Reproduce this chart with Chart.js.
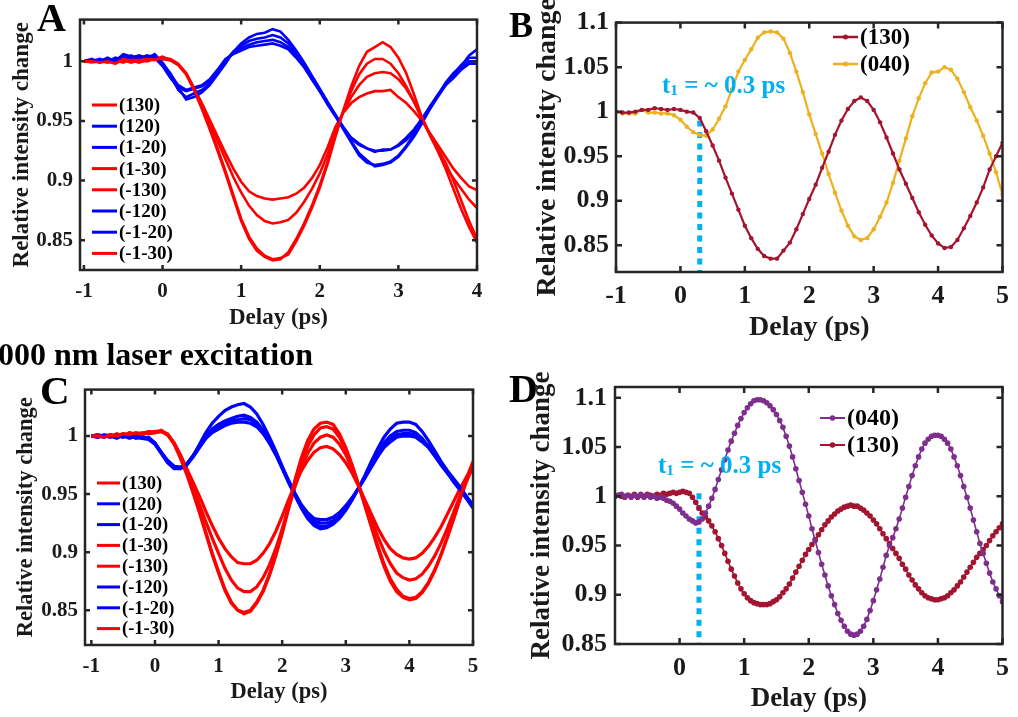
<!DOCTYPE html>
<html>
<head>
<meta charset="utf-8">
<script src="https://cdn.jsdelivr.net/npm/chart.js@4.4.0/dist/chart.umd.min.js"></script>
<style>
  body { margin: 0; background: #fff; width: 1018px; height: 717px; position: relative; overflow: hidden; }
  canvas { position: absolute; }
  .txt { position: absolute; font-family: "Liberation Serif", "Times New Roman", serif; font-weight: bold; line-height: 1; white-space: nowrap; color: #000; }
  .t1 { color: #00B0F0; font-size: 25px; }
  .t1 sub { font-size: 0.62em; vertical-align: -0.12em; }
</style>
</head>
<body>
<canvas id="chartA" width="500" height="340" style="left:0;top:0"></canvas>
<canvas id="chartB" width="508" height="350" style="left:510px;top:0"></canvas>
<canvas id="chartC" width="500" height="347" style="left:0;top:370px"></canvas>
<canvas id="chartD" width="508" height="367" style="left:510px;top:350px"></canvas>

<div class="txt" style="left:37px;top:-2px;font-size:40px">A</div>
<div class="txt" style="left:509px;top:7px;font-size:36px">B</div>
<div class="txt" style="left:-2px;top:338px;font-size:32px">000 nm laser excitation</div>
<div class="txt" style="left:40px;top:370px;font-size:41px">C</div>
<div class="txt" style="left:509px;top:369px;font-size:40px">D</div>
<div class="txt t1" style="left:662px;top:72px">t<sub>1</sub> = ~ 0.3 ps</div>
<div class="txt t1" style="left:658px;top:452px">t<sub>1</sub> = ~ 0.3 ps</div>

<script>
// delay axis, ps
const delay = [-1,-0.9,-0.8,-0.7,-0.6,-0.5,-0.4,-0.3,-0.2,-0.1,
  0,0.1,0.2,0.3,0.4,0.5,0.6,0.7,0.8,0.9,
  1,1.1,1.2,1.3,1.4,1.5,1.6,1.7,1.8,1.9,
  2,2.1,2.2,2.3,2.4,2.5,2.6,2.7,2.8,2.9,
  3,3.1,3.2,3.3,3.4,3.5,3.6,3.7,3.8,3.9,
  4,4.1,4.2,4.3,4.4,4.5,4.6,4.7,4.8,4.9,5];
const delayA = delay.slice(0, 51);
const delayD = [-1,-0.95,-0.9,-0.85,-0.8,-0.75,-0.7,-0.65,-0.6,-0.55,-0.5,-0.45,-0.4,-0.35,-0.3,-0.25,-0.2,-0.15,-0.1,-0.05,
  0,0.05,0.1,0.15,0.2,0.25,0.3,0.35,0.4,0.45,0.5,0.55,0.6,0.65,0.7,0.75,0.8,0.85,0.9,0.95,
  1,1.05,1.1,1.15,1.2,1.25,1.3,1.35,1.4,1.45,1.5,1.55,1.6,1.65,1.7,1.75,1.8,1.85,1.9,1.95,
  2,2.05,2.1,2.15,2.2,2.25,2.3,2.35,2.4,2.45,2.5,2.55,2.6,2.65,2.7,2.75,2.8,2.85,2.9,2.95,
  3,3.05,3.1,3.15,3.2,3.25,3.3,3.35,3.4,3.45,3.5,3.55,3.6,3.65,3.7,3.75,3.8,3.85,3.9,3.95,
  4,4.05,4.1,4.15,4.2,4.25,4.3,4.35,4.4,4.45,4.5,4.55,4.6,4.65,4.7,4.75,4.8,4.85,4.9,4.95,5];

// panel A
const aLabels = ['(130)','(120)','(1-20)','(1-30)','(-130)','(-120)','(-1-20)','(-1-30)'];
const aR130 = [1.000,1.000,0.999,1.000,0.998,1.002,1.000,1.001,1.002,1.001,
  1.003,1.002,0.998,0.990,0.977,0.962,0.945,0.927,0.908,0.888,
  0.868,0.853,0.843,0.837,0.834,0.835,0.838,0.849,0.862,0.877,
  0.894,0.914,0.937,0.959,0.979,0.996,1.008,1.012,1.016,1.012,
  1.003,0.990,0.972,0.953,0.939,0.925,0.910,0.893,0.876,0.861,0.848];
const aR1m30 = [1.000,1.001,1.000,0.999,1.001,0.999,1.002,1.000,1.003,1.002,
  1.004,1.001,0.997,0.989,0.976,0.960,0.943,0.925,0.906,0.886,
  0.866,0.851,0.841,0.836,0.833,0.834,0.840,0.851,0.864,0.879,
  0.896,0.916,0.938,0.958,0.975,0.989,0.998,1.002,1.002,0.998,
  0.990,0.979,0.966,0.952,0.939,0.927,0.915,0.900,0.883,0.866,0.851];
const aRm130 = [1.000,0.999,1.000,1.001,0.999,1.000,1.001,0.999,1.001,1.002,
  1.002,1.001,0.997,0.990,0.977,0.963,0.948,0.933,0.918,0.903,
  0.890,0.879,0.871,0.866,0.864,0.865,0.867,0.873,0.882,0.893,
  0.906,0.922,0.942,0.958,0.970,0.980,0.987,0.990,0.991,0.990,
  0.985,0.977,0.966,0.952,0.938,0.925,0.912,0.902,0.893,0.884,0.877];
const aRm1m30 = [1.000,1.000,1.001,0.999,1.000,1.001,0.999,1.001,1.000,1.002,
  1.002,1.001,0.997,0.990,0.978,0.965,0.951,0.937,0.923,0.910,
  0.899,0.891,0.887,0.885,0.884,0.885,0.886,0.889,0.894,0.902,
  0.913,0.928,0.945,0.957,0.965,0.970,0.973,0.975,0.975,0.976,
  0.970,0.965,0.958,0.950,0.940,0.930,0.920,0.910,0.902,0.895,0.892];
const aB120 = [1.000,1.001,1.000,1.003,1.000,1.006,1.004,1.003,1.004,1.005,
  0.998,0.990,0.978,0.968,0.970,0.974,0.980,0.989,0.998,1.008,
  1.015,1.020,1.023,1.024,1.027,1.025,1.018,1.009,0.999,0.988,
  0.977,0.966,0.955,0.944,0.933,0.923,0.917,0.912,0.913,0.915,
  0.920,0.928,0.937,0.948,0.960,0.971,0.982,0.990,0.996,1.005,1.010];
const aB1m20 = [1.000,1.002,0.999,1.001,1.002,1.004,1.003,1.005,1.003,1.004,
  0.997,0.988,0.976,0.970,0.973,0.976,0.981,0.990,1.000,1.008,
  1.013,1.017,1.019,1.020,1.022,1.020,1.015,1.007,0.997,0.986,
  0.975,0.964,0.954,0.943,0.932,0.921,0.915,0.913,0.914,0.916,
  0.921,0.929,0.939,0.950,0.962,0.972,0.981,0.989,0.997,1.003,1.003];
const aBm120 = [1.000,1.000,1.002,1.000,1.003,1.001,1.005,1.002,1.005,1.003,
  0.996,0.986,0.978,0.975,0.977,0.979,0.983,0.992,1.001,1.007,
  1.011,1.014,1.016,1.017,1.018,1.016,1.012,1.005,0.996,0.985,
  0.975,0.964,0.954,0.944,0.935,0.930,0.927,0.925,0.925,0.926,
  0.929,0.934,0.941,0.950,0.960,0.970,0.980,0.988,0.994,1.000,1.000];
const aBm1m20 = [1.000,1.001,1.000,1.002,1.001,1.003,1.002,1.004,1.002,1.006,
  0.999,0.989,0.980,0.976,0.978,0.980,0.985,0.993,1.002,1.006,
  1.009,1.012,1.013,1.014,1.015,1.013,1.010,1.003,0.995,0.985,
  0.975,0.965,0.955,0.945,0.936,0.931,0.927,0.924,0.926,0.926,
  0.930,0.936,0.943,0.952,0.962,0.971,0.980,0.986,0.993,0.998,0.998];
const aXTicks = [-1, 0, 1, 2, 3, 4];
const aYTicks = [0.85, 0.9, 0.95, 1];

// panel B
const bLabels = ['(130)', '(040)'];
const b130 = [1.000,0.999,0.999,1.000,1.002,1.002,1.004,1.003,1.002,1.003,
  1.002,1.000,0.999,0.993,0.978,0.962,0.945,0.926,0.908,0.890,
  0.872,0.858,0.846,0.838,0.835,0.835,0.844,0.853,0.868,0.885,
  0.902,0.918,0.937,0.955,0.974,0.990,1.003,1.012,1.016,1.012,
  1.002,0.988,0.971,0.953,0.935,0.919,0.903,0.887,0.873,0.861,
  0.852,0.847,0.848,0.856,0.869,0.883,0.898,0.915,0.935,0.950,0.965];
const b040 = [1.000,0.998,0.998,0.998,1.002,0.999,0.999,0.998,0.998,0.996,
  0.991,0.983,0.977,0.974,0.973,0.980,0.992,1.006,1.025,1.045,
  1.058,1.070,1.083,1.089,1.090,1.089,1.082,1.066,1.045,1.022,
  0.997,0.975,0.953,0.930,0.909,0.889,0.872,0.860,0.856,0.858,
  0.868,0.882,0.898,0.920,0.945,0.970,0.995,1.015,1.032,1.044,
  1.045,1.050,1.047,1.037,1.022,1.005,0.990,0.973,0.953,0.932,0.907];
const bT1 = [0.3, 0.3];
const bT1Y = [0.99, 0.82];
const bXTicks = [-1, 0, 1, 2, 3, 4, 5];
const bYTicks = [0.85, 0.9, 0.95, 1, 1.05, 1.1];

// panel C
const cLabels = aLabels;
const cR130 = [1.000,1.000,0.999,1.001,1.000,1.002,1.001,1.003,1.002,1.003,
  1.004,1.004,1.002,0.994,0.982,0.968,0.952,0.935,0.917,0.899,
  0.883,0.868,0.857,0.850,0.848,0.850,0.857,0.867,0.881,0.898,
  0.918,0.940,0.962,0.981,0.996,1.006,1.011,1.012,1.010,1.002,
  0.990,0.975,0.958,0.940,0.922,0.904,0.888,0.875,0.866,0.861,
  0.859,0.860,0.865,0.873,0.884,0.898,0.914,0.931,0.948,0.964,0.978];
const cRm1m30 = [1.000,1.001,1.000,0.999,1.002,1.000,1.003,1.001,1.002,1.004,
  1.003,1.005,1.001,0.993,0.981,0.967,0.951,0.934,0.916,0.898,
  0.882,0.867,0.856,0.850,0.847,0.849,0.856,0.866,0.880,0.897,
  0.916,0.937,0.958,0.976,0.991,1.001,1.007,1.008,1.006,0.999,
  0.988,0.974,0.958,0.941,0.923,0.906,0.890,0.877,0.868,0.862,
  0.860,0.861,0.866,0.874,0.885,0.898,0.913,0.929,0.946,0.961,0.975];
const cR1m30 = [1.000,0.999,1.001,1.000,1.001,0.999,1.002,1.001,1.003,1.002,
  1.003,1.004,1.001,0.994,0.983,0.970,0.956,0.941,0.926,0.912,
  0.899,0.886,0.876,0.869,0.866,0.866,0.870,0.878,0.889,0.903,
  0.920,0.938,0.956,0.972,0.985,0.994,0.999,1.001,0.999,0.993,
  0.984,0.972,0.958,0.943,0.928,0.914,0.901,0.890,0.882,0.878,
  0.876,0.877,0.881,0.888,0.897,0.908,0.921,0.935,0.949,0.962,0.973];
const cRm130 = [1.000,1.001,0.999,1.001,1.000,1.002,1.000,1.002,1.001,1.003,
  1.003,1.004,1.001,0.994,0.984,0.972,0.960,0.948,0.935,0.923,
  0.912,0.903,0.896,0.891,0.890,0.890,0.893,0.899,0.907,0.918,
  0.931,0.945,0.958,0.970,0.979,0.986,0.990,0.991,0.989,0.984,
  0.977,0.968,0.957,0.945,0.933,0.921,0.911,0.903,0.898,0.895,
  0.894,0.895,0.899,0.905,0.913,0.922,0.933,0.944,0.955,0.965,0.972];
const cB120 = [1.000,0.999,1.001,1.000,0.998,1.001,0.999,1.000,0.998,0.997,
  0.993,0.985,0.977,0.973,0.972,0.975,0.983,0.993,1.003,1.011,
  1.017,1.022,1.025,1.027,1.028,1.025,1.019,1.010,0.999,0.987,
  0.974,0.961,0.949,0.938,0.929,0.923,0.920,0.921,0.924,0.929,
  0.936,0.945,0.955,0.966,0.978,0.989,0.999,1.006,1.011,1.012,
  1.012,1.010,1.004,0.996,0.987,0.978,0.970,0.963,0.956,0.948,0.940];
const cB1m20 = [1.000,1.000,0.999,1.001,1.000,0.999,1.001,0.998,0.999,0.998,
  0.994,0.986,0.978,0.974,0.973,0.976,0.983,0.992,1.000,1.006,
  1.010,1.013,1.015,1.017,1.018,1.016,1.012,1.005,0.996,0.985,
  0.973,0.961,0.950,0.940,0.932,0.927,0.925,0.925,0.927,0.931,
  0.938,0.946,0.955,0.965,0.975,0.985,0.994,1.000,1.004,1.005,
  1.005,1.003,0.998,0.991,0.983,0.975,0.968,0.961,0.954,0.946,0.939];
const cBm120 = [1.000,1.001,1.000,0.999,1.001,1.000,0.998,1.000,0.999,0.998,
  0.993,0.985,0.977,0.972,0.972,0.975,0.982,0.990,0.998,1.004,
  1.008,1.011,1.013,1.014,1.015,1.014,1.010,1.003,0.994,0.984,
  0.972,0.960,0.949,0.939,0.930,0.925,0.922,0.922,0.925,0.930,
  0.937,0.946,0.955,0.964,0.974,0.983,0.991,0.997,1.001,1.002,
  1.002,1.001,0.997,0.991,0.983,0.975,0.968,0.960,0.953,0.946,0.938];
const cBm1m20 = [1.000,0.999,1.000,1.001,0.999,1.000,1.000,0.999,0.998,0.999,
  0.994,0.986,0.979,0.974,0.973,0.976,0.983,0.991,0.998,1.003,
  1.006,1.009,1.011,1.012,1.012,1.011,1.008,1.002,0.994,0.984,
  0.973,0.962,0.951,0.941,0.934,0.929,0.928,0.928,0.930,0.934,
  0.940,0.947,0.955,0.964,0.973,0.982,0.990,0.995,0.999,1.000,
  1.000,0.999,0.995,0.990,0.983,0.976,0.969,0.961,0.954,0.947,0.941];
const cXTicks = [-1, 0, 1, 2, 3, 4, 5];
const cYTicks = [0.85, 0.9, 0.95, 1];

// panel D
const dLabels = ['(040)', '(130)'];
const d040 = [1.000,1.001,1.002,1.000,1.001,0.999,1.001,1.000,1.002,0.999,
  1.001,0.999,1.000,0.998,0.999,0.998,0.996,0.995,0.993,0.990,
  0.987,0.983,0.980,0.977,0.975,0.973,0.974,0.977,0.983,0.990,
  0.998,1.007,1.017,1.027,1.037,1.047,1.056,1.064,1.072,1.079,
  1.085,1.090,1.094,1.097,1.098,1.098,1.097,1.095,1.092,1.088,
  1.083,1.077,1.070,1.061,1.051,1.040,1.028,1.016,1.004,0.992,
  0.980,0.967,0.955,0.943,0.931,0.920,0.909,0.899,0.890,0.881,
  0.874,0.868,0.863,0.860,0.859,0.860,0.863,0.868,0.875,0.884,
  0.894,0.905,0.916,0.928,0.940,0.950,0.958,0.967,0.977,0.988,
  0.999,1.010,1.021,1.031,1.040,1.048,1.054,1.058,1.061,1.062,
  1.062,1.061,1.058,1.054,1.048,1.040,1.031,1.021,1.010,0.999,
  0.988,0.976,0.964,0.952,0.942,0.932,0.922,0.913,0.906,0.899,0.893];
const d130 = [1.000,1.001,1.000,0.999,1.001,1.000,1.002,0.999,1.001,1.000,
  1.002,1.001,1.000,1.002,1.001,1.003,1.002,1.003,1.004,1.003,
  1.004,1.005,1.004,1.003,0.999,0.994,0.988,0.983,0.979,0.975,
  0.970,0.964,0.957,0.950,0.942,0.934,0.926,0.919,0.912,0.906,
  0.901,0.897,0.894,0.892,0.891,0.890,0.890,0.890,0.891,0.893,
  0.895,0.898,0.902,0.906,0.911,0.917,0.923,0.929,0.935,0.941,
  0.946,0.951,0.956,0.961,0.966,0.971,0.975,0.979,0.982,0.985,
  0.987,0.989,0.990,0.991,0.990,0.990,0.988,0.986,0.983,0.980,
  0.976,0.972,0.967,0.962,0.957,0.952,0.947,0.942,0.937,0.931,
  0.926,0.920,0.915,0.910,0.906,0.902,0.899,0.897,0.896,0.895,
  0.895,0.896,0.897,0.899,0.902,0.905,0.909,0.913,0.918,0.923,
  0.928,0.933,0.938,0.942,0.946,0.950,0.955,0.960,0.964,0.968,0.972];
const dT1 = [0.3, 0.3];
const dT1Y = [1.003, 0.85];
const dXTicks = [0, 1, 2, 3, 4, 5];
const dYTicks = [0.85, 0.9, 0.95, 1, 1.05, 1.1];

const RED = '#FF0000', BLUE = '#0000FF';
const WINE = '#A2142F', GOLD = '#EDB120', PURPLE = '#7E2F8E', CYAN = '#00B0F0';
const FAMILY = "'Liberation Serif', 'Times New Roman', serif";
const INK = '#1a1a1a';

const pts = (xs, ys) => xs.map((x, i) => ({ x: x, y: ys[i] }));
const fmt = v => String(+Number(v).toFixed(2));

// MATLAB style box with inward ticks on all four sides
const boxPlugin = {
  id: 'matBox',
  afterDatasetsDraw(chart, args, opts) {
    const { ctx, chartArea: a, scales } = chart;
    const len = opts.tick || 5;
    ctx.save();
    ctx.strokeStyle = '#262626';
    ctx.lineWidth = opts.lw || 2.5;
    ctx.beginPath();
    scales.x.ticks.forEach(t => {
      const px = scales.x.getPixelForValue(t.value);
      ctx.moveTo(px, a.bottom); ctx.lineTo(px, a.bottom - len);
      ctx.moveTo(px, a.top); ctx.lineTo(px, a.top + len);
    });
    scales.y.ticks.forEach(t => {
      const py = scales.y.getPixelForValue(t.value);
      ctx.moveTo(a.left, py); ctx.lineTo(a.left + len, py);
      ctx.moveTo(a.right, py); ctx.lineTo(a.right - len, py);
    });
    ctx.stroke();
    ctx.strokeRect(a.left, a.top, a.right - a.left, a.bottom - a.top);
    ctx.restore();
  }
};

// legend drawn inside the axes, like MATLAB
const boxLegend = {
  id: 'boxLegend',
  afterDraw(chart, args, o) {
    const { ctx } = chart;
    ctx.save();
    ctx.font = 'bold ' + o.size + 'px ' + FAMILY;
    ctx.textBaseline = 'middle';
    ctx.textAlign = 'left';
    chart.data.datasets.filter(d => !d.noLegend).forEach((d, i) => {
      const y = o.y + i * o.gap;
      ctx.strokeStyle = d.borderColor;
      ctx.lineWidth = o.lw;
      ctx.beginPath();
      ctx.moveTo(o.x, y); ctx.lineTo(o.x + o.len, y);
      ctx.stroke();
      if (o.dot) {
        ctx.fillStyle = d.borderColor;
        ctx.beginPath();
        ctx.arc(o.x + o.len / 2, y, o.dot, 0, Math.PI * 2);
        ctx.fill();
      }
      ctx.fillStyle = '#000';
      ctx.fillText(d.label, o.x + o.len + 2, y + 1);
    });
    ctx.restore();
  }
};

function axes(cfg) {
  return {
    x: {
      type: 'linear', min: cfg.xMin, max: cfg.xMax,
      afterBuildTicks: s => { s.ticks = cfg.xTicks.map(v => ({ value: v })); },
      afterFit: s => { s.height = cfg.xH; },
      grid: { display: false, drawTicks: false },
      border: { display: false },
      ticks: { autoSkip: false, maxRotation: 0, padding: cfg.xPad, color: INK,
        font: { family: FAMILY, size: cfg.tick, weight: 'bold' }, callback: fmt },
      title: { display: true, text: 'Delay (ps)', color: INK,
        font: { family: FAMILY, size: cfg.title, weight: 'bold' }, padding: { top: 0, bottom: cfg.xTitlePad } }
    },
    y: {
      type: 'linear', min: cfg.yMin, max: cfg.yMax,
      afterBuildTicks: s => { s.ticks = cfg.yTicks.map(v => ({ value: v })); },
      afterFit: s => { s.width = cfg.yW; },
      grid: { display: false, drawTicks: false },
      border: { display: false },
      ticks: { autoSkip: false, padding: cfg.yPad, color: INK,
        font: { family: FAMILY, size: cfg.tick, weight: 'bold' }, callback: fmt },
      title: { display: true, text: 'Relative intensity change', color: INK,
        font: { family: FAMILY, size: cfg.title, weight: 'bold' }, padding: { top: cfg.yTitlePad, bottom: 0 } }
    }
  };
}

function baseOptions(cfg, legend, box) {
  return {
    responsive: false, animation: false, devicePixelRatio: 1,
    layout: { padding: { top: cfg.padTop, right: cfg.padRight, bottom: 0, left: 0 } },
    plugins: { legend: { display: false }, tooltip: { enabled: false }, matBox: box, boxLegend: legend },
    scales: axes(cfg)
  };
}

function lineSet(label, xs, ys, color, width, radius) {
  return {
    label: label, data: pts(xs, ys), borderColor: color, backgroundColor: color,
    borderWidth: width, pointRadius: radius || 0, pointBorderWidth: 0,
    tension: 0, fill: false
  };
}

function t1Set(xs, ys) {
  return {
    label: 't1', noLegend: true, data: pts(xs, ys), borderColor: CYAN,
    borderWidth: 5, borderDash: [6, 5.5], pointRadius: 0, fill: false
  };
}

// A
const aSeries = [aR130, aB120, aB1m20, aR1m30, aRm130, aBm120, aBm1m20, aRm1m30];
const aColors = [RED, BLUE, BLUE, RED, RED, BLUE, BLUE, RED];
new Chart(document.getElementById('chartA'), {
  type: 'line',
  data: { datasets: aSeries.map((ys, i) => lineSet(aLabels[i], delayA, ys, aColors[i], 2.6)) },
  options: baseOptions({ xMin: -1.05, xMax: 4, yMin: 0.825, yMax: 1.035, xTicks: aXTicks, yTicks: aYTicks,
    xH: 70, yW: 80, padTop: 18, padRight: 23, tick: 21, title: 23, xPad: 9, yPad: 7, xTitlePad: 8, yTitlePad: 8 },
    { x: 92, y: 105, gap: 21.2, len: 25, lw: 3, size: 19 }, { lw: 2.5, tick: 5 }),
  plugins: [boxPlugin, boxLegend]
});

// B
new Chart(document.getElementById('chartB'), {
  type: 'line',
  data: { datasets: [
    lineSet(bLabels[0], delay, b130, WINE, 2.2, 2.2),
    lineSet(bLabels[1], delay, b040, GOLD, 2.2, 2.2),
    t1Set(bT1, bT1Y)
  ] },
  options: baseOptions({ xMin: -1, xMax: 5, yMin: 0.82, yMax: 1.1, xTicks: bXTicks, yTicks: bYTicks,
    xH: 78, yW: 106, padTop: 14, padRight: 10, tick: 26, title: 28, xPad: 9, yPad: 7, xTitlePad: 5, yTitlePad: 21 },
    { x: 323, y: 37, gap: 27, len: 25, lw: 2.5, dot: 2.5, size: 23 }, { lw: 2.5, tick: 6 }),
  plugins: [boxPlugin, boxLegend]
});

// C
const cSeries = [cR130, cB120, cB1m20, cR1m30, cRm130, cBm120, cBm1m20, cRm1m30];
new Chart(document.getElementById('chartC'), {
  type: 'line',
  data: { datasets: cSeries.map((ys, i) => lineSet(cLabels[i], delay, ys, aColors[i], 3.2)) },
  options: baseOptions({ xMin: -1.1, xMax: 5, yMin: 0.82, yMax: 1.04, xTicks: cXTicks, yTicks: cYTicks,
    xH: 72, yW: 85, padTop: 18, padRight: 27, tick: 21, title: 22.5, xPad: 9, yPad: 7, xTitlePad: 11, yTitlePad: 13 },
    { x: 97, y: 113, gap: 20.8, len: 23, lw: 3, size: 18.5 }, { lw: 2.5, tick: 5 }),
  plugins: [boxPlugin, boxLegend]
});

// D
new Chart(document.getElementById('chartD'), {
  type: 'line',
  data: { datasets: [
    lineSet(dLabels[0], delayD, d040, PURPLE, 1.6, 2.8),
    lineSet(dLabels[1], delayD, d130, WINE, 1.6, 2.8),
    t1Set(dT1, dT1Y)
  ] },
  options: baseOptions({ xMin: -1, xMax: 5, yMin: 0.85, yMax: 1.111, xTicks: dXTicks, yTicks: dYTicks,
    xH: 73, yW: 105, padTop: 37, padRight: 9, tick: 26, title: 27, xPad: 9, yPad: 8, xTitlePad: 2, yTitlePad: 16 },
    { x: 310, y: 68, gap: 27, len: 25, lw: 2, dot: 2.8, size: 24 }, { lw: 2.5, tick: 6 }),
  plugins: [boxPlugin, boxLegend]
});
</script>
</body>
</html>
